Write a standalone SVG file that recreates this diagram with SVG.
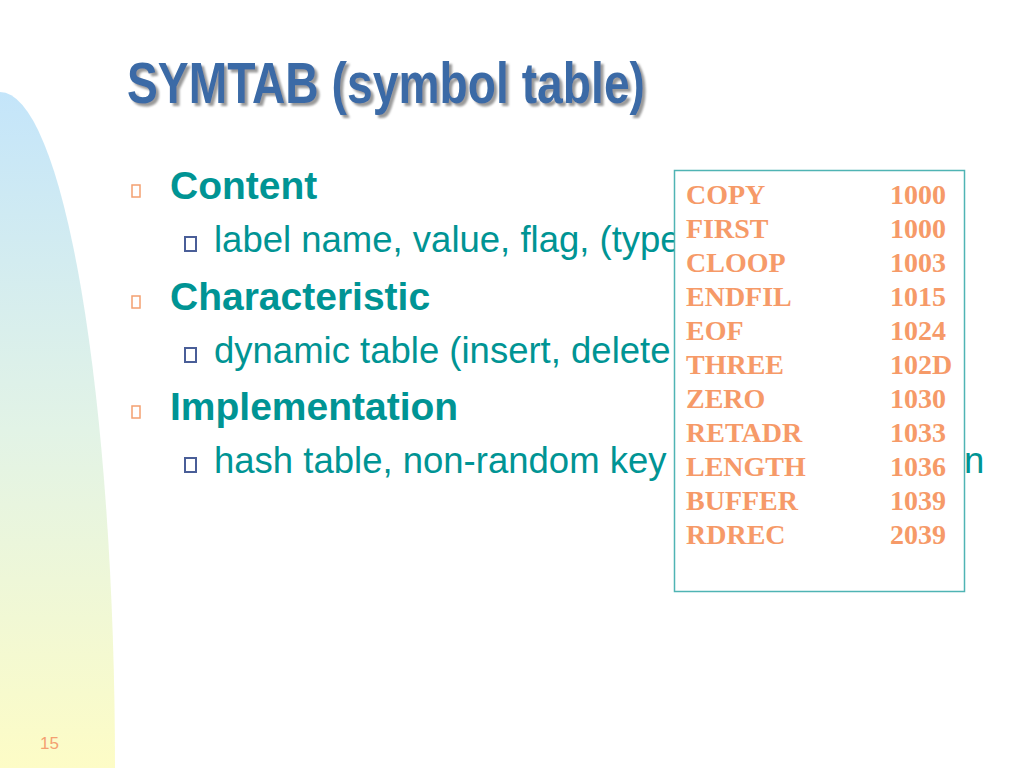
<svg xmlns="http://www.w3.org/2000/svg" width="1024" height="768" viewBox="0 0 1024 768">
<defs>
<linearGradient id="bg" x1="0" y1="0" x2="0" y2="1">
<stop offset="0" stop-color="#C4E5FA"/>
<stop offset="0.5" stop-color="#E2F3E6"/>
<stop offset="1" stop-color="#FDFCC6"/>
</linearGradient>
<filter id="sh" x="-5%" y="-20%" width="110%" height="140%">
<feGaussianBlur in="SourceAlpha" stdDeviation="1.2"/>
<feOffset dx="3" dy="3" result="b"/>
<feFlood flood-color="#9a9a9a"/>
<feComposite in2="b" operator="in"/>
<feMerge><feMergeNode/><feMergeNode in="SourceGraphic"/></feMerge>
</filter>
</defs>
<style>
.title{font-family:"Liberation Sans",Arial,sans-serif;font-weight:bold;font-size:57px;fill:#3A6BA6}
.l1{font-family:"Liberation Sans",Arial,sans-serif;font-weight:bold;font-size:39px;fill:#009494}
.l2{font-family:"Liberation Sans",Arial,sans-serif;font-size:36.5px;fill:#009494}
.b1{fill:none;stroke:#F4A070;stroke-width:1.5}
.b2{fill:none;stroke:#4A5E98;stroke-width:2}
.tb{font-family:"Liberation Serif","Times New Roman",serif;font-weight:bold;font-size:28px;fill:#F69A68}
.pg{font-family:"Liberation Sans",Arial,sans-serif;font-size:17px;fill:#F4A070}
</style>
<rect width="1024" height="768" fill="#FFFFFF"/>
<path d="M0,92 A115,676 0 0 1 115,768 L0,768 Z" fill="url(#bg)"/>
<text class="title" x="127" y="103" textLength="518" lengthAdjust="spacingAndGlyphs" filter="url(#sh)">SYMTAB (symbol table)</text>
<g id="content">
<rect class="b1" x="132" y="185" width="8" height="12"/>
<text class="l1" x="170" y="199">Content</text>
<rect class="b2" x="185" y="237" width="11" height="14"/>
<text class="l2" x="214" y="252">label name, value, flag, (type</text>
</g>
<g id="characteristic">
<rect class="b1" x="132" y="296" width="8" height="12"/>
<text class="l1" x="170" y="310">Characteristic</text>
<rect class="b2" x="185" y="348" width="11" height="14"/>
<text class="l2" x="214" y="363">dynamic table (insert, delete</text>
</g>
<g id="implementation">
<rect class="b1" x="132" y="406" width="8" height="12"/>
<text class="l1" x="170" y="420">Implementation</text>
<rect class="b2" x="185" y="458" width="11" height="14"/>
<text class="l2" x="214" y="473">hash table, non-random key</text>
<text class="l2" x="964" y="473">n</text>
</g>
<g id="symtab">
<rect x="674.5" y="170.5" width="290" height="421" fill="#FFFFFF" stroke="#4FB4B4" stroke-width="1.5"/>
<text class="tb" x="686" y="204">COPY</text><text class="tb" x="890" y="204">1000</text>
<text class="tb" x="686" y="238">FIRST</text><text class="tb" x="890" y="238">1000</text>
<text class="tb" x="686" y="272">CLOOP</text><text class="tb" x="890" y="272">1003</text>
<text class="tb" x="686" y="306">ENDFIL</text><text class="tb" x="890" y="306">1015</text>
<text class="tb" x="686" y="340">EOF</text><text class="tb" x="890" y="340">1024</text>
<text class="tb" x="686" y="374">THREE</text><text class="tb" x="890" y="374">102D</text>
<text class="tb" x="686" y="408">ZERO</text><text class="tb" x="890" y="408">1030</text>
<text class="tb" x="686" y="442">RETADR</text><text class="tb" x="890" y="442">1033</text>
<text class="tb" x="686" y="476">LENGTH</text><text class="tb" x="890" y="476">1036</text>
<text class="tb" x="686" y="510">BUFFER</text><text class="tb" x="890" y="510">1039</text>
<text class="tb" x="686" y="544">RDREC</text><text class="tb" x="890" y="544">2039</text>
</g>
<text class="pg" x="40" y="749">15</text>
</svg>
